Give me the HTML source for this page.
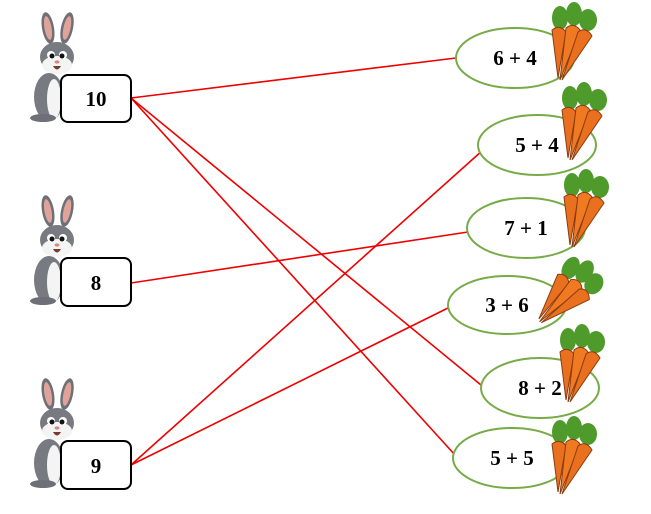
<!DOCTYPE html>
<html><head><style>
body{margin:0;background:#fff;width:651px;height:509px;overflow:hidden}
svg text{font-family:"Liberation Serif",serif;font-weight:bold;font-size:21px}
</style></head><body>
<svg width="651" height="509" viewBox="0 0 651 509" xmlns="http://www.w3.org/2000/svg">
<defs>
<g id="bunny">
  <ellipse cx="-9" cy="-27" rx="6" ry="16" fill="#6e7077" transform="rotate(-10 -9 -27)"/>
  <ellipse cx="-9" cy="-27" rx="3.5" ry="12" fill="#e0a39a" transform="rotate(-10 -9 -27)"/>
  <ellipse cx="10" cy="-27" rx="6" ry="16" fill="#6e7077" transform="rotate(12 10 -27)"/>
  <ellipse cx="10" cy="-27" rx="3.5" ry="12" fill="#e0a39a" transform="rotate(12 10 -27)"/>
  <ellipse cx="-8" cy="42" rx="15" ry="24" fill="#777a80"/>
  <ellipse cx="-3" cy="44" rx="7" ry="20" fill="#f4f4f4"/>
  <ellipse cx="-14" cy="63" rx="13" ry="4" fill="#6e7077"/>
  <ellipse cx="0" cy="2" rx="17" ry="15" fill="#777a80"/>
  <ellipse cx="0" cy="10" rx="15" ry="9" fill="#f4f4f4"/>
  <circle cx="-6" cy="0" r="4" fill="#fff"/><circle cx="6" cy="0" r="4" fill="#fff"/>
  <circle cx="-5" cy="1" r="2.5" fill="#111"/><circle cx="5" cy="1" r="2.5" fill="#111"/>
  <ellipse cx="0" cy="7" rx="2.5" ry="1.6" fill="#d48a80"/>
  <path d="M-4 11 Q0 18 4 11Z" fill="#7a3b2a"/>
</g>
<g id="carrots">
  <g fill="#4e9a2a">
    <ellipse cx="-12" cy="-30" rx="8" ry="12"/><ellipse cx="2" cy="-34" rx="8" ry="12"/><ellipse cx="16" cy="-28" rx="9" ry="11"/>
  </g>
  <path d="M-20 -18 Q-12 -24 -6 -16 L-14 30Z" fill="#e8701f" stroke="#8a3b10" stroke-width="1"/>
  <path d="M-6 -20 Q2 -26 8 -18 L-12 32Z" fill="#f07a22" stroke="#8a3b10" stroke-width="1"/>
  <path d="M6 -16 Q14 -22 20 -12 L-10 32Z" fill="#e8701f" stroke="#8a3b10" stroke-width="1"/>
</g>
</defs>
<g stroke="#e00" stroke-width="1.6">
<line x1="131" y1="98" x2="456" y2="58"/>
<line x1="131" y1="98" x2="481" y2="385"/>
<line x1="131" y1="98" x2="455" y2="455"/>
<line x1="131" y1="283" x2="468" y2="232"/>
<line x1="131" y1="465" x2="483" y2="150"/>
<line x1="131" y1="465" x2="450" y2="307"/>
</g>
<use href="#bunny" x="57" y="55"/>
<use href="#bunny" x="57" y="238"/>
<use href="#bunny" x="57" y="421"/>
<g fill="#fff" stroke="#000" stroke-width="2">
<rect x="61" y="75" width="70" height="47" rx="7"/>
<rect x="61" y="258" width="70" height="48" rx="7"/>
<rect x="61" y="441" width="70" height="48" rx="7"/>
</g>
<text x="96" y="106" text-anchor="middle">10</text>
<text x="96" y="290" text-anchor="middle">8</text>
<text x="96" y="473" text-anchor="middle">9</text>
<g fill="#fff" stroke="#77ab47" stroke-width="2">
<ellipse cx="515" cy="58" rx="59" ry="30"/>
<ellipse cx="537" cy="145" rx="59" ry="30"/>
<ellipse cx="526" cy="228" rx="59" ry="30"/>
<ellipse cx="507" cy="305" rx="59" ry="29"/>
<ellipse cx="540" cy="388" rx="59" ry="30"/>
<ellipse cx="512" cy="458" rx="59" ry="30"/>
</g>
<text x="515" y="65" text-anchor="middle">6 + 4</text>
<text x="537" y="152" text-anchor="middle">5 + 4</text>
<text x="526" y="235" text-anchor="middle">7 + 1</text>
<text x="507" y="312" text-anchor="middle">3 + 6</text>
<text x="540" y="395" text-anchor="middle">8 + 2</text>
<text x="512" y="465" text-anchor="middle">5 + 5</text>
<use href="#carrots" x="572" y="48"/>
<use href="#carrots" x="582" y="128"/>
<use href="#carrots" x="584" y="215"/>
<use href="#carrots" x="566" y="300" transform="rotate(30 566 300)"/>
<use href="#carrots" x="580" y="370"/>
<use href="#carrots" x="572" y="462"/>
</svg>
</body></html>
